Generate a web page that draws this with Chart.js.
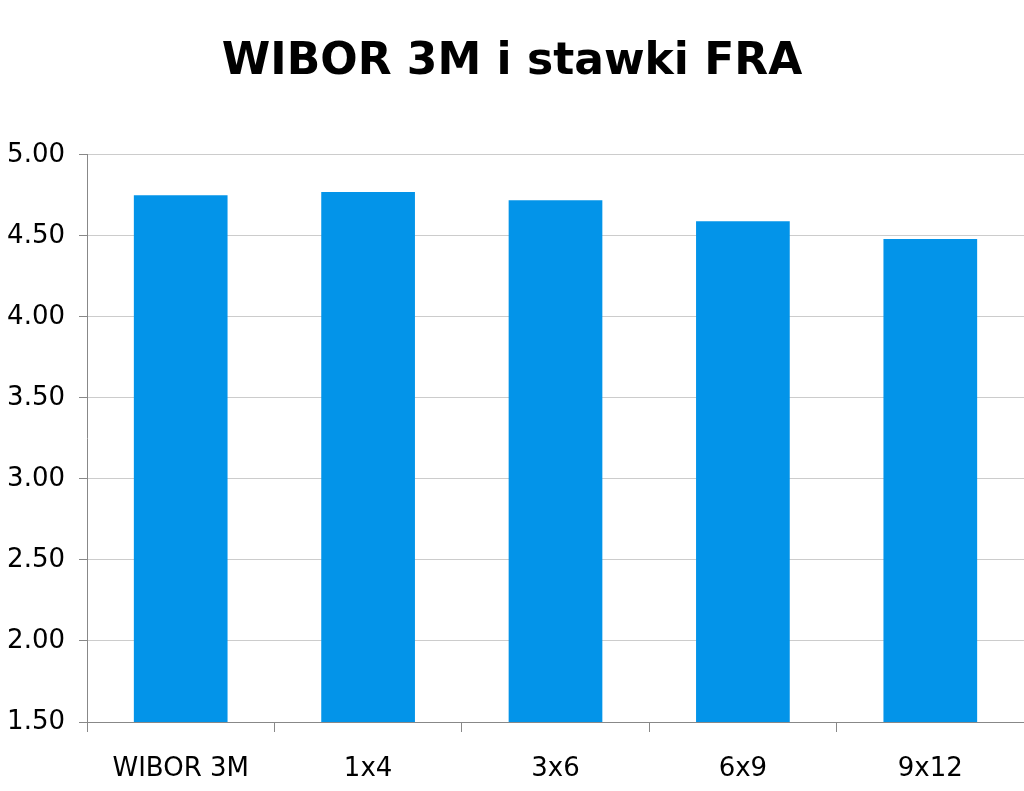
<!DOCTYPE html>
<html>
<head>
<meta charset="utf-8">
<script src="https://cdn.jsdelivr.net/npm/chart.js@4/dist/chart.umd.min.js"></script>
<style>
  html, body { margin: 0; padding: 0; background: #fff; }
  #wrap { width: 1024px; height: 791px; }
</style>
</head>
<body>
<div id="wrap"><canvas id="barChart"></canvas></div>
<script>
// dane
var kategorie = ['WIBOR 3M', '1x4', '3x6', '6x9', '9x12'];
var stawki = [4.75, 4.77, 4.72, 4.59, 4.48];
var osY = { min: 1.5, max: 5.0, krok: 0.5 };

var ctx = document.getElementById('barChart');

var myBarChart = new Chart(ctx, {
	type: 'bar',
	data: {
		labels: kategorie,
		datasets: [{
			label: 'WIBOR 3M i stawki FRA',
			data: stawki,
			backgroundColor: '#0394E9',
			borderWidth: 0,
			categoryPercentage: 1.0,
			barPercentage: 0.5
		}]
	},
	options: {
		responsive: true,
		maintainAspectRatio: false,
		animation: false,
		layout: { padding: { left: 0, right: 0, top: 0, bottom: 0 } },
		plugins: {
			legend: { display: false },
			tooltip: { enabled: false },
			title: {
				display: true,
				text: 'WIBOR 3M i stawki FRA',
				color: '#000',
				font: { family: 'DejaVu Sans', size: 44, weight: 'bold' },
				padding: { top: 36, bottom: 66 }
			}
		},
		scales: {
			y: {
				min: osY.min,
				max: osY.max,
				afterFit: function (scale) { scale.width = 87; },
				ticks: {
					stepSize: osY.krok,
					color: '#000',
					padding: 14,
					font: { family: 'DejaVu Sans', size: 26 },
					callback: function (v) { return Number(v).toFixed(2); }
				},
				grid: { color: '#cccccc', tickColor: '#888', tickLength: 8 },
				border: { color: '#888' }
			},
			x: {
				afterFit: function (scale) { scale.height = 69; },
				ticks: {
					color: '#000',
					padding: 22,
					font: { family: 'DejaVu Sans', size: 26 }
				},
				grid: { offset: true, drawOnChartArea: false, tickColor: '#888', tickLength: 10 },
				border: { color: '#888' }
			}
		}
	}
});
</script>
</body>
</html>
